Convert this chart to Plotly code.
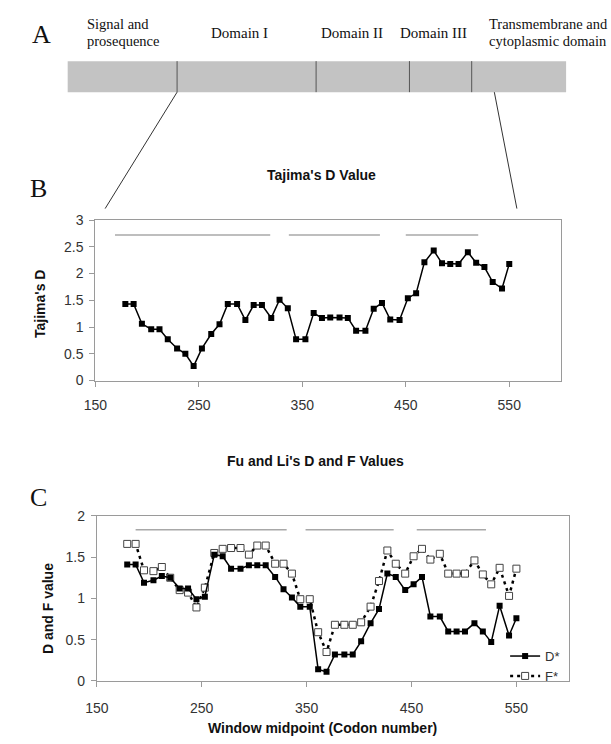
import plotly.graph_objects as go

W, H = 611, 744

# ---------------- data ----------------
window_mid = [179, 187, 195, 204, 212, 220, 229, 237, 245, 253, 262, 270, 278, 287, 295,
              303, 311, 320, 328, 336, 344, 353, 361, 369, 377, 386, 394, 402, 411, 419,
              427, 435, 444, 452, 460, 468, 477, 485, 493, 501, 510, 518, 526, 534, 543, 550]

tajima_d = [1.43, 1.43, 1.06, 0.96, 0.96, 0.77, 0.60, 0.50, 0.27, 0.60,
            0.87, 1.05, 1.43, 1.43, 1.13, 1.41, 1.41, 1.17, 1.51, 1.35,
            0.77, 0.77, 1.26, 1.17, 1.18, 1.18, 1.17, 0.93, 0.93, 1.34,
            1.45, 1.14, 1.13, 1.54, 1.63, 2.21, 2.43, 2.19, 2.18, 2.18,
            2.40, 2.20, 2.12, 1.84, 1.72, 2.18]

fu_li_d = [1.41, 1.41, 1.19, 1.22, 1.27, 1.25, 1.12, 1.12, 0.99, 1.02,
           1.53, 1.51, 1.36, 1.36, 1.40, 1.40, 1.40, 1.26, 1.11, 1.01,
           0.90, 0.90, 0.14, 0.11, 0.32, 0.32, 0.32, 0.48, 0.70, 0.87,
           1.30, 1.26, 1.10, 1.17, 1.26, 0.78, 0.78, 0.60, 0.60, 0.60,
           0.70, 0.60, 0.47, 0.91, 0.55, 0.76]

fu_li_f = [1.66, 1.66, 1.34, 1.33, 1.38, 1.25, 1.10, 1.07, 0.89, 1.13,
           1.55, 1.60, 1.61, 1.61, 1.53, 1.64, 1.64, 1.42, 1.42, 1.30,
           0.99, 0.99, 0.59, 0.35, 0.68, 0.68, 0.68, 0.71, 0.90, 1.21,
           1.58, 1.42, 1.30, 1.51, 1.60, 1.47, 1.54, 1.30, 1.30, 1.30,
           1.46, 1.29, 1.17, 1.37, 1.03, 1.36]

# domain bars (start, end) drawn above each plot
segments_b = [(169, 319), (337, 425), (450, 520)]
segments_b_level = 2.72
segments_c = [(187, 331), (349, 433), (455, 521)]
segments_c_level = 1.83

x_ticks = [150, 250, 350, 450, 550]
domain_labels = ["Domain I", "Domain II", "Domain III"]

# ---------------- helpers ----------------
def px(x):
    return x / W

def py(y):
    return 1 - y / H

def seg_xy(segs, level):
    xs, ys = [], []
    for a, b in segs:
        xs += [a, b, None]
        ys += [level, level, None]
    return xs, ys

SANS = "Liberation Sans, Arial, sans-serif"
SERIF = "Liberation Serif, Times New Roman, serif"

fig = go.Figure()

# Panel B
sx, sy = seg_xy(segments_b, segments_b_level)
fig.add_trace(go.Scatter(x=sx, y=sy, mode="lines", line=dict(color="#a8a8a8", width=1.5),
                         showlegend=False, hoverinfo="skip", xaxis="x", yaxis="y"))
fig.add_trace(go.Scatter(x=window_mid, y=tajima_d, mode="lines+markers",
                         line=dict(color="black", width=1.5),
                         marker=dict(symbol="square", size=6, color="black"),
                         showlegend=False, xaxis="x", yaxis="y"))

# Panel C
sx, sy = seg_xy(segments_c, segments_c_level)
fig.add_trace(go.Scatter(x=sx, y=sy, mode="lines", line=dict(color="#a8a8a8", width=1.5),
                         showlegend=False, hoverinfo="skip", xaxis="x2", yaxis="y2"))
fig.add_trace(go.Scatter(x=window_mid, y=fu_li_f, mode="lines+markers", name="F*",
                         line=dict(color="black", width=2.5, dash="3px,4px"),
                         marker=dict(symbol="square", size=7, color="white",
                                     line=dict(color="#444", width=1)),
                         xaxis="x2", yaxis="y2"))
fig.add_trace(go.Scatter(x=window_mid, y=fu_li_d, mode="lines+markers", name="D*",
                         line=dict(color="black", width=1.5),
                         marker=dict(symbol="square", size=6, color="black"),
                         xaxis="x2", yaxis="y2"))

axis_common = dict(showgrid=False, zeroline=False, showline=True, linecolor="#9a9a9a",
                   linewidth=1, mirror=True, ticks="outside", tickcolor="#9a9a9a",
                   ticklen=5, tickfont=dict(family=SANS, size=14, color="#333"))

fig.update_layout(
    width=W, height=H,
    margin=dict(l=0, r=0, t=0, b=0),
    paper_bgcolor="white", plot_bgcolor="white",
    showlegend=True,
    legend=dict(x=px(503), y=py(647), xanchor="left", yanchor="top",
                bgcolor="rgba(0,0,0,0)", font=dict(family=SANS, size=13, color="#333"),
                traceorder="reversed", itemwidth=30, tracegroupgap=0),
    xaxis=dict(domain=[px(85), px(560)], range=[150, 600], tickvals=x_ticks,
               anchor="y", ticklabelstandoff=7, **axis_common),
    yaxis=dict(domain=[py(380.7), py(216.7)], range=[0, 3], dtick=0.5,
               anchor="x", ticklabelstandoff=3, **axis_common),
    xaxis2=dict(domain=[px(86.5), px(568)], range=[150, 600], tickvals=x_ticks,
                anchor="y2", ticklabelstandoff=9, **axis_common),
    yaxis2=dict(domain=[py(687.7), py(519)], range=[0, 2], dtick=0.5,
                anchor="x2", ticklabelstandoff=3, **axis_common),
)

# ---------------- Panel A schematic ----------------
bar_l, bar_r, bar_t, bar_b = 56.8, 565.2, 54.3, 86
dividers = [168.4, 310.2, 405.4, 468.9]
shapes = [dict(type="rect", xref="paper", yref="paper", x0=px(bar_l), x1=px(bar_r),
               y0=py(bar_b), y1=py(bar_t), fillcolor="#c3c3c3", line=dict(width=0),
               layer="below")]
for d in dividers:
    shapes.append(dict(type="line", xref="paper", yref="paper", x0=px(d), x1=px(d),
                       y0=py(bar_b), y1=py(bar_t), line=dict(color="#555", width=1)))
shapes.append(dict(type="line", xref="paper", yref="paper", x0=px(168.4), y0=py(bar_b),
                   x1=px(95), y1=py(205), line=dict(color="#333", width=1)))
shapes.append(dict(type="line", xref="paper", yref="paper", x0=px(492), y0=py(bar_b),
                   x1=px(515), y1=py(205), line=dict(color="#333", width=1)))
fig.update_layout(shapes=shapes)

ann = []
def text(x, y, s, size=15, family=SERIF, xanchor="center", bold=False, color="#111", angle=0):
    if bold:
        s = "<b>" + s + "</b>"
    ann.append(dict(x=px(x), y=py(y), xref="paper", yref="paper", text=s, showarrow=False,
                    xanchor=xanchor, yanchor="middle", textangle=angle,
                    font=dict(family=family, size=size, color=color)))

text(30, 27, "A", size=26)
text(27, 184, "B", size=26)
text(27, 500, "C", size=26)

text(74, 16, "Signal and", size=14.5, xanchor="left")
text(74, 34, "prosequence", size=14.5, xanchor="left")
text(232, 26, domain_labels[0])
text(347, 26, domain_labels[1])
text(430, 26, domain_labels[2])
text(484.5, 16, "Transmembrane and", size=14.5, xanchor="left")
text(484.5, 34, "cytoplasmic domain", size=14.5, xanchor="left")

text(316, 171, "Tajima's D Value", size=14, family=SANS, bold=True)
text(310, 463, "Fu and Li's D and F Values", size=14, family=SANS, bold=True)
text(317, 736, "Window midpoint (Codon number)", size=14, family=SANS, bold=True)
text(28, 302, "Tajima's D", size=14, family=SANS, bold=True, angle=-90)
text(37, 614, "D and F value", size=14, family=SANS, bold=True, angle=-90)

fig.update_layout(annotations=ann)

fig.write_html("out.html", config={"displayModeBar": False},
               post_script="document.body.style.margin='0';document.body.style.overflow='hidden';")
